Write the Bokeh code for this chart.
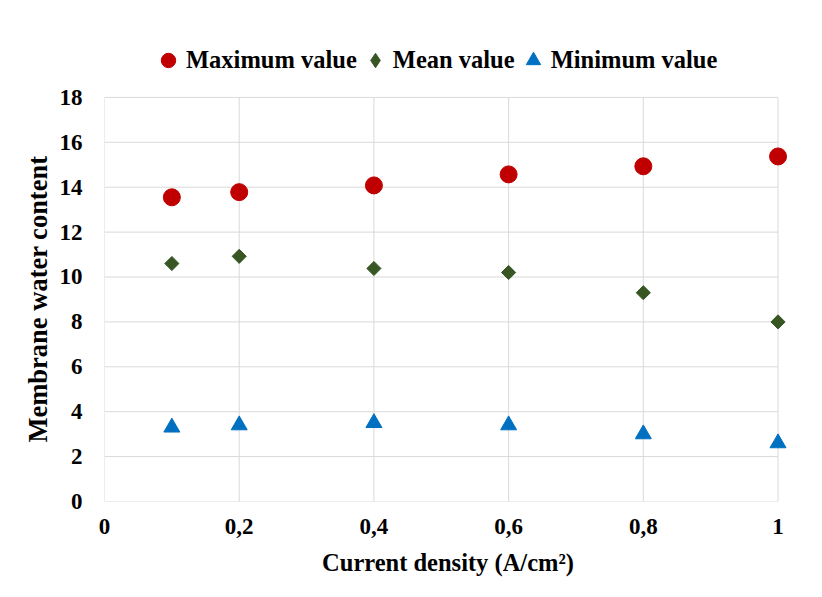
import math
from bokeh.plotting import figure
from bokeh.layouts import column
from bokeh.models import Legend, LegendItem, Range1d, FixedTicker
from bokeh.embed import file_html
from bokeh.resources import INLINE

current_density = [0.1, 0.2, 0.4, 0.6, 0.8, 1.0]
max_value = [13.55, 13.78, 14.08, 14.57, 14.93, 15.37]
mean_value = [10.6, 10.92, 10.38, 10.2, 9.3, 8.0]
min_value = [3.3, 3.4, 3.5, 3.4, 3.0, 2.6]
x_ticks = [0, 0.2, 0.4, 0.6, 0.8, 1.0]
x_tick_labels = ["0", "0,2", "0,4", "0,6", "0,8", "1"]
y_ticks = [0, 2, 4, 6, 8, 10, 12, 14, 16, 18]
series_names = ["Maximum value", "Mean value", "Minimum value"]

FONT = "Liberation Serif"
RED, GREEN, BLUE = "#C00000", "#375623", "#0070C0"
GRID = "#d9d9d9"

# ---- legend strip (its renderers lie outside its visible range) ----
pl = figure(width=806, height=80, output_backend="svg", toolbar_location=None,
            x_range=Range1d(0, 1), y_range=Range1d(0, 1),
            min_border=0, min_border_left=0, min_border_right=0,
            min_border_top=0, min_border_bottom=0)
pl.axis.visible = False
pl.grid.visible = False
pl.outline_line_color = None
l_max = pl.scatter(current_density, max_value, marker="circle", fill_color=RED, line_color=RED)
l_mean = pl.scatter(current_density, mean_value, marker="diamond", fill_color=GREEN, line_color=GREEN)
l_min = pl.scatter(current_density, min_value, marker="triangle", fill_color=BLUE, line_color=BLUE)
legend = Legend(items=[
    LegendItem(label=series_names[0], renderers=[l_max]),
    LegendItem(label=series_names[1], renderers=[l_mean]),
    LegendItem(label=series_names[2], renderers=[l_min]),
], orientation="horizontal", location=(46, 2),
   label_text_font=FONT, label_text_font_style="bold", label_text_font_size="24.5px",
   label_text_color="#000000", label_text_baseline="middle",
   border_line_color=None, background_fill_alpha=0,
   glyph_width=36, glyph_height=36, label_standoff=0, spacing=0, padding=0, margin=0)
pl.add_layout(legend)

# ---- main chart ----
p = figure(width=806, height=501, output_backend="svg", toolbar_location=None,
           x_range=Range1d(0, 1.02), y_range=Range1d(0, 18.04),
           min_border_left=104, min_border_right=15, min_border_top=16, min_border_bottom=80)
p.outline_line_color = None
p.xgrid.visible = False
p.ygrid.visible = False

# gridlines spanning exactly the tick range
p.segment(x0=[x_ticks[0]] * len(y_ticks), x1=[x_ticks[-1]] * len(y_ticks),
          y0=y_ticks, y1=y_ticks, line_color=GRID, line_width=1)
p.segment(x0=x_ticks, x1=x_ticks, y0=[y_ticks[0]] * len(x_ticks),
          y1=[y_ticks[-1]] * len(x_ticks), line_color=GRID, line_width=1)

p.scatter(current_density, max_value, marker="circle", size=17,
          fill_color=RED, line_color=RED)
p.scatter(current_density, mean_value, marker="square", size=10, angle=math.pi / 4,
          fill_color=GREEN, line_color=GREEN)
p.scatter(current_density, min_value, marker="triangle", size=16,
          fill_color=BLUE, line_color=BLUE)

p.xaxis.ticker = FixedTicker(ticks=x_ticks)
p.xaxis.major_label_overrides = {t: l for t, l in zip(x_ticks, x_tick_labels)}
p.yaxis.ticker = FixedTicker(ticks=y_ticks)

for ax in (p.xaxis[0], p.yaxis[0]):
    ax.axis_line_color = None
    ax.major_tick_line_color = None
    ax.minor_tick_line_color = None
    ax.major_label_text_font = FONT
    ax.major_label_text_font_style = "bold"
    ax.major_label_text_font_size = "23px"
    ax.major_label_text_color = "#000000"
    ax.axis_label_text_font = FONT
    ax.axis_label_text_font_style = "bold"
    ax.axis_label_text_color = "#000000"

p.xaxis.axis_label_text_font_size = "24.5px"
p.yaxis.axis_label_text_font_size = "26.5px"
p.xaxis.axis_label = "Current density (A/cm²)"
p.yaxis.axis_label = "Membrane water content"
p.xaxis.major_label_standoff = 11
p.yaxis.major_label_standoff = 16
p.xaxis.axis_label_standoff = 12
p.yaxis.axis_label_standoff = 4

layout = column(pl, p, spacing=0)
open("out.html", "w").write(file_html(layout, INLINE))
